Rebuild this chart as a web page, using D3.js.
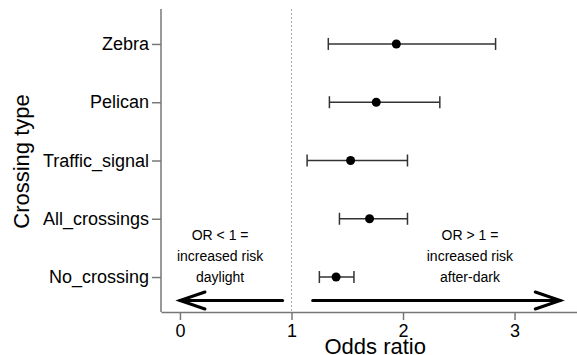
<!DOCTYPE html>
<html><head><meta charset="utf-8">
<script src="https://cdn.jsdelivr.net/npm/d3@7"></script>
<style>body{margin:0;background:#fff}svg{display:block;font-family:Arial,"Liberation Sans",sans-serif}</style>
</head><body><svg id="c" width="577" height="355"></svg>
<script>
const categories = ["Zebra","Pelican","Traffic_signal","All_crossings","No_crossing"];
const oddsRatio = [1.94, 1.76, 1.53, 1.70, 1.40];
const lowerCI   = [1.33, 1.34, 1.14, 1.43, 1.25];
const upperCI   = [2.83, 2.33, 2.04, 2.04, 1.56];
const xTicks = [0, 1, 2, 3];
const leftNote = ["OR < 1 =", "increased risk", "daylight"];
const rightNote = ["OR > 1 =", "increased risk", "after-dark"];

const svg = d3.select("#c");
const L = 161, R = 577, T = 9, B = 312;
const x = d3.scaleLinear().domain([-0.17, 3.56]).range([L, R]);
const y = d3.scalePoint().domain(categories).range([T, B]).padding(0.6);
const axisCol = "#777";

// reference line at OR = 1
svg.append("line").attr("x1", x(1)).attr("x2", x(1)).attr("y1", T).attr("y2", B)
  .attr("stroke", "#aaa").attr("stroke-width", 1).attr("stroke-dasharray", "2,2");

// axes
const gy = svg.append("g").attr("transform", `translate(${L},0)`)
  .call(d3.axisLeft(y).tickSize(9).tickSizeOuter(0).tickPadding(3));
gy.select(".domain").attr("d", `M0,${T}V${B}`);
const gx = svg.append("g").attr("transform", `translate(0,${B})`)
  .call(d3.axisBottom(x).tickValues(xTicks).tickFormat(d3.format("d")).tickSize(8).tickSizeOuter(0).tickPadding(4));
[gy, gx].forEach(g => {
  g.selectAll(".domain").attr("stroke", axisCol).attr("stroke-width", 1.5);
  g.selectAll(".tick line").attr("stroke", axisCol).attr("stroke-width", 1.5);
  g.selectAll("text").attr("font-size", 18).attr("fill", "#000").attr("font-family", "Arial, Liberation Sans, sans-serif");
});
gx.selectAll(".tick text").attr("dy", "0.71em");

// axis titles
svg.append("text").attr("x", (x(1) + x(2)) / 2 + 28).attr("y", 354).attr("text-anchor", "middle")
  .attr("font-size", 22).text("Odds ratio");
svg.append("text").attr("transform", `translate(29,${(T + B) / 2 + 1}) rotate(-90)`)
  .attr("text-anchor", "middle").attr("font-size", 22).text("Crossing type");

// error bars
const rows = categories.map((c, i) => ({c, or: oddsRatio[i], lo: lowerCI[i], hi: upperCI[i]}));
const eb = svg.append("g").attr("stroke", "#333").attr("stroke-width", 1.5);
rows.forEach(d => {
  const yy = y(d.c);
  eb.append("line").attr("x1", x(d.lo)).attr("x2", x(d.hi)).attr("y1", yy).attr("y2", yy);
  eb.append("line").attr("x1", x(d.lo)).attr("x2", x(d.lo)).attr("y1", yy - 6).attr("y2", yy + 6);
  eb.append("line").attr("x1", x(d.hi)).attr("x2", x(d.hi)).attr("y1", yy - 6).attr("y2", yy + 6);
});
svg.append("g").selectAll("circle").data(rows).join("circle")
  .attr("cx", d => x(d.or)).attr("cy", d => y(d.c)).attr("r", 4.5).attr("fill", "#000");

// arrows
const ay = B - 11.5;
const arr = svg.append("g").attr("stroke", "#000").attr("stroke-width", 3).attr("fill", "none")
  .attr("stroke-linecap", "round").attr("stroke-linejoin", "miter");
arr.append("line").attr("x1", x(0.92)).attr("x2", x(0)).attr("y1", ay).attr("y2", ay);
arr.append("path").attr("d", `M${x(0) + 25},${ay - 8.5}L${x(0)},${ay}L${x(0) + 25},${ay + 8.5}`);
arr.append("line").attr("x1", x(1.19)).attr("x2", x(3.41)).attr("y1", ay).attr("y2", ay);
arr.append("path").attr("d", `M${x(3.41) - 25},${ay - 8.5}L${x(3.41)},${ay}L${x(3.41) - 25},${ay + 8.5}`);

// notes
function note(lines, cx) {
  lines.forEach((t, i) => svg.append("text").attr("x", x(cx)).attr("y", 240 + i * 21)
    .attr("text-anchor", "middle").attr("font-size", 14).text(t));
}
note(leftNote, 0.36);
note(rightNote, 2.6);
</script></body></html>
